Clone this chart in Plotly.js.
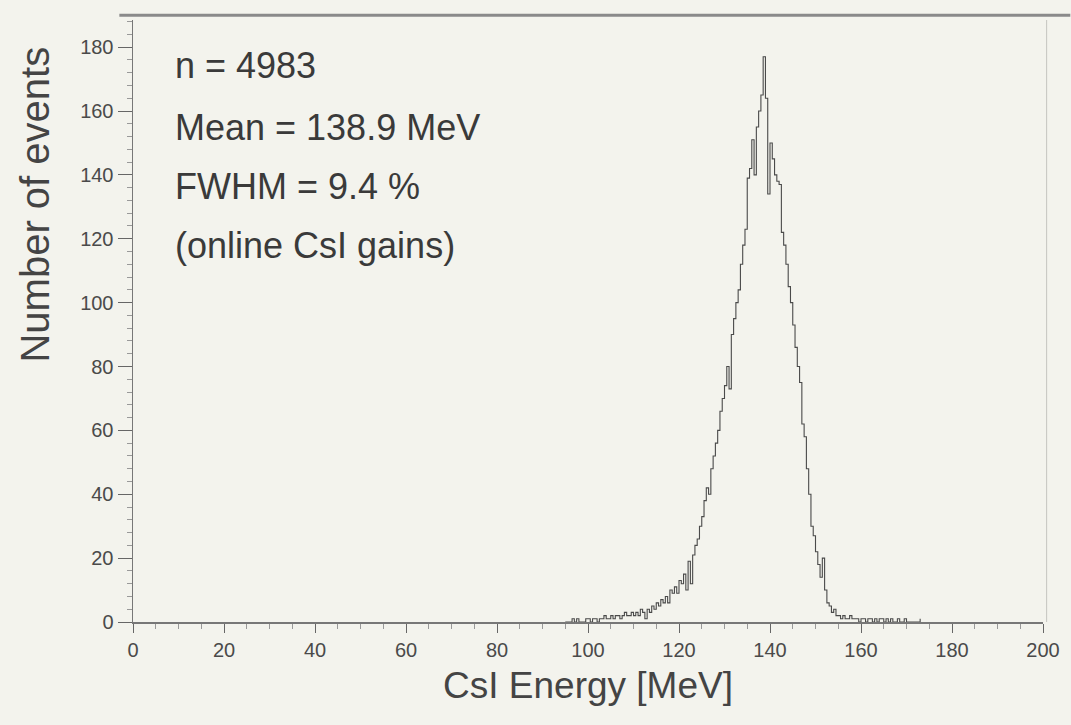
<!DOCTYPE html>
<html>
<head>
<meta charset="utf-8">
<script src="https://cdn.plot.ly/plotly-3.0.1.min.js"></script>
<style>html,body{margin:0;padding:0;background:#f3f3ed;}#chart{width:1071px;height:725px;}</style>
</head>
<body>
<div id="chart"></div>
<script>
// Histogram bin left edges (MeV, 0.5 MeV bins)
const binStart = [];
for (let e = 95; e <= 178; e += 0.5) binStart.push(e);
// Counts per bin
const counts = [
 0,0,0,1,0,1,0,0,0,1,
 1,0,1,1,0,1,1,2,1,1,
 2,1,2,2,1,2,3,2,2,3,
 2,3,2,4,3,1,4,3,5,4,
 6,5,7,6,8,6,10,9,11,9,
 13,12,15,10,19,12,21,24,26,30,
 33,38,42,40,48,52,56,60,66,70,
 74,80,73,90,95,100,104,112,118,123,
 139,142,151,140,155,160,165,177,164,134,
 150,145,140,138,137,122,118,112,105,100,
 93,86,80,75,62,58,48,40,30,27,
 22,18,14,20,10,6,5,3,4,2,
 2,1,2,1,1,2,1,1,1,0,
 1,1,0,1,1,0,1,0,1,1,
 0,1,0,1,0,0,1,0,0,1,
 0,0,0,0,0,0,1
];
const xTickVals = [0,20,40,60,80,100,120,140,160,180,200];
const yTickVals = [0,20,40,60,80,100,120,140,160,180];
const statLines = ["n = 4983","Mean = 138.9 MeV","FWHM = 9.4 %","(online CsI gains)"];

const n = Math.min(binStart.length, counts.length);
const xs = binStart.slice(0, n);
const ys = counts.slice(0, n);

const trace = {
  type: 'scatter', mode: 'lines',
  x: xs, y: ys,
  line: {shape: 'hv', color: '#4a4a4a', width: 1.1},
  hoverinfo: 'x+y'
};

const fam = 'Liberation Sans, Arial, sans-serif';
const tickFont = {family: fam, size: 20, color: '#4a4a4a'};
const annFont = {family: fam, size: 36, color: '#3a3a3a'};

const annotations = statLines.map((t, i) => ({
  xref: 'paper', yref: 'paper', x: 0.044, y: [0.924, 0.821, 0.723, 0.626][i],
  xanchor: 'left', yanchor: 'middle', text: t, showarrow: false, font: annFont
}));
annotations.push({
  xref: 'paper', yref: 'paper', x: -0.108, y: 0.693, xanchor: 'center', yanchor: 'middle',
  text: 'Number of events', textangle: -90, showarrow: false,
  font: {family: fam, size: 40, color: '#444'}
});

const layout = {
  width: 1071, height: 725,
  paper_bgcolor: '#f3f3ed', plot_bgcolor: '#f3f3ed',
  margin: {l: 133, r: 28, t: 20, b: 103},
  showlegend: false,
  xaxis: {
    range: [0, 200], tickvals: xTickVals, ticks: 'outside', ticklen: 9, tickwidth: 1,
    tickcolor: '#666', showline: true, linecolor: '#777', linewidth: 1.5,
    showgrid: false, zeroline: false, tickfont: tickFont,
    minor: {dtick: 5, ticks: 'outside', ticklen: 5, tickcolor: '#999', showgrid: false},
    title: {text: 'CsI Energy [MeV]', standoff: 12,
      font: {family: fam, size: 37, color: '#444'}}
  },
  yaxis: {
    range: [0, 188.5], tickvals: yTickVals, ticks: 'outside', ticklen: 14, tickwidth: 1,
    tickcolor: '#666', showline: true, linecolor: '#777', linewidth: 1.5,
    showgrid: false, zeroline: false, tickfont: tickFont,
    minor: {dtick: 4, ticks: 'outside', ticklen: 5, tickcolor: '#999', showgrid: false}
  },
  shapes: [
    {type: 'line', xref: 'paper', yref: 'paper', x0: -0.015, x1: 1.03, y0: 1.008, y1: 1.008,
     line: {color: '#8a8a8a', width: 3}},
    {type: 'line', xref: 'paper', yref: 'paper', x0: 1.004, x1: 1.004, y0: 0, y1: 1.0,
     line: {color: '#c4c4bf', width: 1}}
  ],
  annotations: annotations
};

Plotly.newPlot('chart', [trace], layout, {displayModeBar: false, staticPlot: true});
</script>
</body>
</html>
